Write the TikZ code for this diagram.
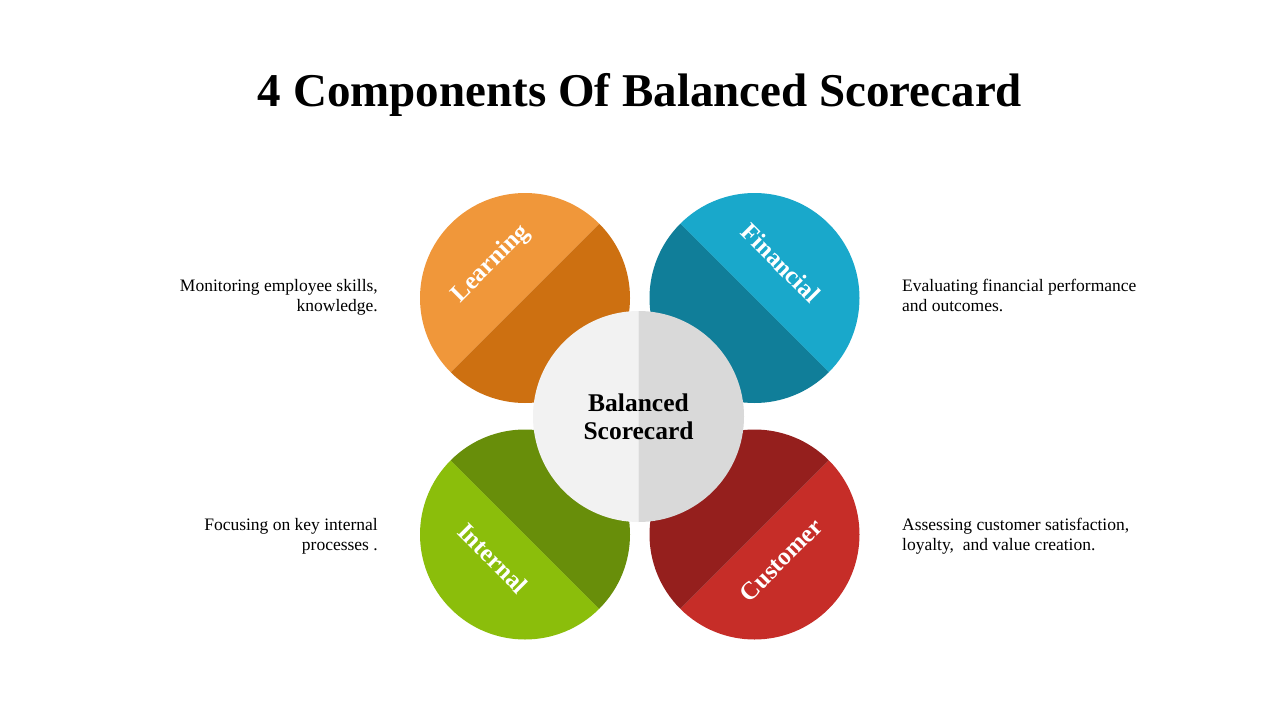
\documentclass[tikz,border=0pt]{standalone}
\usepackage{fontspec}
\setmainfont{Liberation Serif}
\definecolor{lrnL}{HTML}{F0973A}
\definecolor{lrnD}{HTML}{CD7011}
\definecolor{finL}{HTML}{19A8CB}
\definecolor{finD}{HTML}{107E99}
\definecolor{intL}{HTML}{8BBE0B}
\definecolor{intD}{HTML}{688E0A}
\definecolor{cusL}{HTML}{C62D28}
\definecolor{cusD}{HTML}{951F1D}
\definecolor{cenL}{HTML}{F2F2F2}
\definecolor{cenD}{HTML}{D9D9D9}
\begin{document}
\begin{tikzpicture}[x=1pt,y=1pt,
  lbl/.style={text=white,font=\bfseries\fontsize{25}{30}\selectfont,inner sep=0pt},
  desc/.style={font=\fontsize{17.5}{20}\selectfont,inner sep=0pt},
  disc/.style={circle,minimum size=210pt,inner sep=0pt}]
\useasboundingbox (0,0) rectangle (1280,-720);
\fill[white] (0,0) rectangle (1280,-720);
\newcommand{\halves}[5]{% centre x, centre y, start angle, light, dark
  \fill[#4] (#1,#2) ++(#3:105pt) arc[start angle=#3, delta angle=180, radius=105pt] -- cycle;
  \fill[#5] (#1,#2) ++(#3+180:105pt) arc[start angle=#3+180, delta angle=180, radius=105pt] -- cycle;}
% title
\node[font=\bfseries\fontsize{47}{54}\selectfont] (title) at (640,-95) {4 Components Of Balanced Scorecard};
% circles
\node[disc] (lrn) at (525,-298) {};
\node[disc] (fin) at (754.5,-298) {};
\node[disc] (int) at (525,-534.5) {};
\node[disc] (cus) at (754.5,-534.5) {};
\halves{525}{-298}{45}{lrnL}{lrnD}
\halves{754.5}{-298}{-45}{finL}{finD}
\halves{525}{-534.5}{135}{intL}{intD}
\halves{754.5}{-534.5}{225}{cusL}{cusD}
% centre circle
\node[disc,minimum size=211pt] (cen) at (638.5,-416.5) {};
\fill[cenL] (638.5,-311) arc[start angle=90, delta angle=180, radius=105.5pt] -- cycle;
\fill[cenD] (638.5,-311) arc[start angle=90, delta angle=-180, radius=105.5pt] -- cycle;
\node[font=\bfseries\fontsize{25.5}{28}\selectfont,align=center,inner sep=0pt] (centxt) at (cen.center) {Balanced\\Scorecard};
% labels
\node[lbl,rotate=45] (lrnt) at (491,-264) {Learning};
\node[lbl,rotate=-45] (fint) at (781,-263) {Financial};
\node[lbl,rotate=-45] (intt) at (493,-558) {Internal};
\node[lbl,rotate=45] (cust) at (781,-560) {Customer};
% descriptions
\node[desc,align=right,anchor=north east] (lrnd) at (378,-279) {Monitoring employee skills,\\knowledge.};
\node[desc,align=left,anchor=north west] (find) at (902,-279) {Evaluating financial performance\\and outcomes.};
\node[desc,align=right,anchor=north east] (intd) at (378,-518) {Focusing on key internal\\processes .};
\node[desc,align=left,anchor=north west] (cusd) at (902,-518) {Assessing customer satisfaction,\\loyalty,\ \ and value creation.};
\end{tikzpicture}
\end{document}
